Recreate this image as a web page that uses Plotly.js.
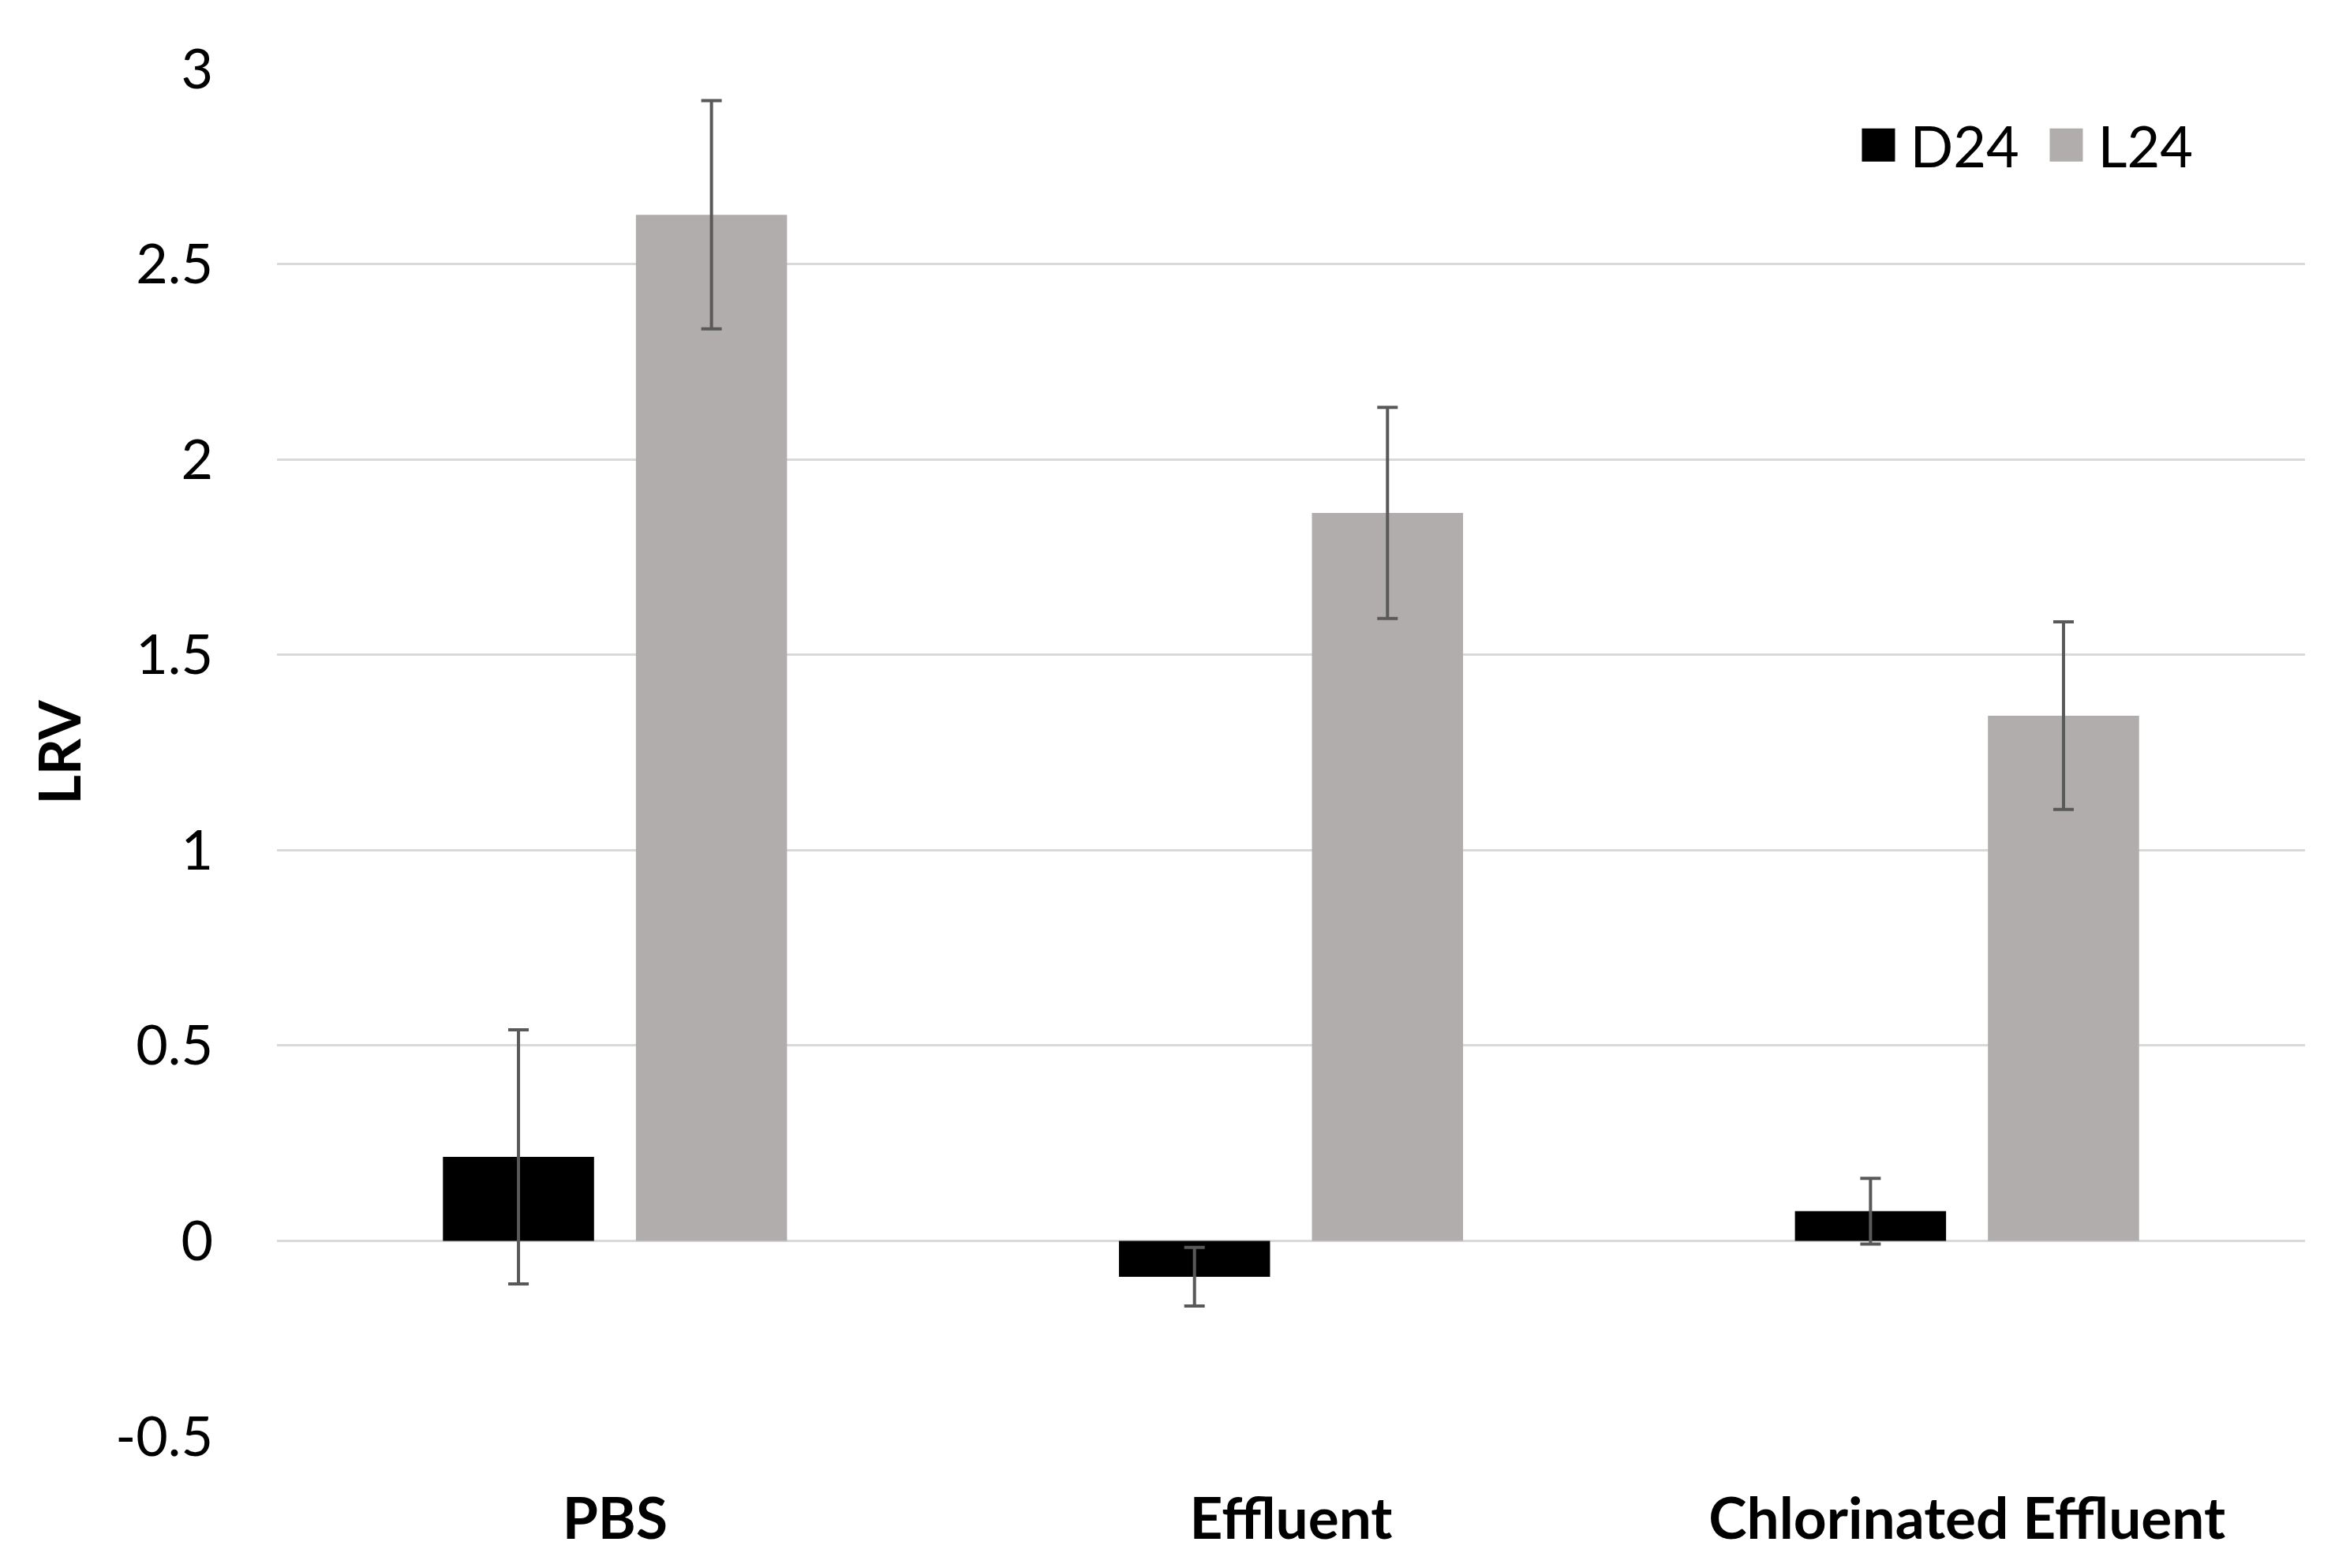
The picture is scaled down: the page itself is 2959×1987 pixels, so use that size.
<!DOCTYPE html>
<html>
<head>
<meta charset="utf-8">
<script src="https://cdn.plot.ly/plotly-3.0.1.min.js"></script>
<style>
html,body{margin:0;padding:0;background:#fff;}
#chart{width:2959px;height:1987px;}
.legend .legendpoints path{d:path('M16,21H-26V-21H16Z');}
</style>
</head>
<body>
<div id="chart"></div>
<script>
var categories = ['PBS', 'Effluent', 'Chlorinated Effluent'];
var seriesNames = ['D24', 'L24'];
var d24Values = [0.215, -0.092, 0.076];
var d24Errors = [0.325, 0.075, 0.084];
var l24Values = [2.626, 1.863, 1.344];
var l24Errors = [0.292, 0.270, 0.240];
var yTickVals = [-0.5, 0, 0.5, 1, 1.5, 2, 2.5, 3];
var yTickText = ['-0.5', '0', '0.5', '1', '1.5', '2', '2.5', '3'];

var FONT = 'Lato, "Open Sans", sans-serif';
var errStyle = {color: '#595959', thickness: 4, width: 13};

var traces = [
  {type: 'bar', name: seriesNames[0], x: categories, y: d24Values,
   marker: {color: '#000000'},
   error_y: Object.assign({type: 'data', array: d24Errors, visible: true}, errStyle)},
  {type: 'bar', name: seriesNames[1], x: categories, y: l24Values,
   marker: {color: '#b0adac'},
   error_y: Object.assign({type: 'data', array: l24Errors, visible: true}, errStyle)}
];

var layout = {
  width: 2959, height: 1987,
  margin: {l: 351, r: 38, t: 87, b: 167},
  paper_bgcolor: '#ffffff', plot_bgcolor: '#ffffff',
  barmode: 'group', bargap: 0.429, bargroupgap: 0.217,
  font: {family: FONT, size: 70, color: '#000000'},
  showlegend: true,
  legend: {orientation: 'h', x: 0.778, xanchor: 'left', y: 0.944, yanchor: 'middle',
           font: {family: FONT, size: 72, color: '#000000'}, bgcolor: 'rgba(0,0,0,0)',
           itemwidth: 60, entrywidth: 163, traceorder: 'normal'},
  xaxis: {type: 'category', showgrid: false, zeroline: false, showline: false,
          ticks: '', ticklabelstandoff: 56,
          tickfont: {family: FONT, size: 73, color: '#000000', weight: 'bold'}},
  yaxis: {range: [-0.5, 3], tickvals: yTickVals, ticktext: yTickText,
          showgrid: true, gridcolor: '#d9d9d9', gridwidth: 3,
          zeroline: true, zerolinecolor: '#d9d9d9', zerolinewidth: 3,
          showline: false, ticks: '', ticklabelstandoff: 80,
          tickfont: {family: FONT, size: 70, color: '#000000'},
          title: {text: 'LRV', standoff: 20,
                  font: {family: FONT, size: 72, color: '#000000', weight: 'bold'}}}
};

function growLegendIcons() {
  document.querySelectorAll('.legend .legendpoints path').forEach(function (p) {
    p.setAttribute('d', 'M16,21H-26V-21H16Z');
  });
}

Plotly.newPlot('chart', traces, layout, {staticPlot: true}).then(function () {
  growLegendIcons();
  setTimeout(growLegendIcons, 50);
});
</script>
</body>
</html>
